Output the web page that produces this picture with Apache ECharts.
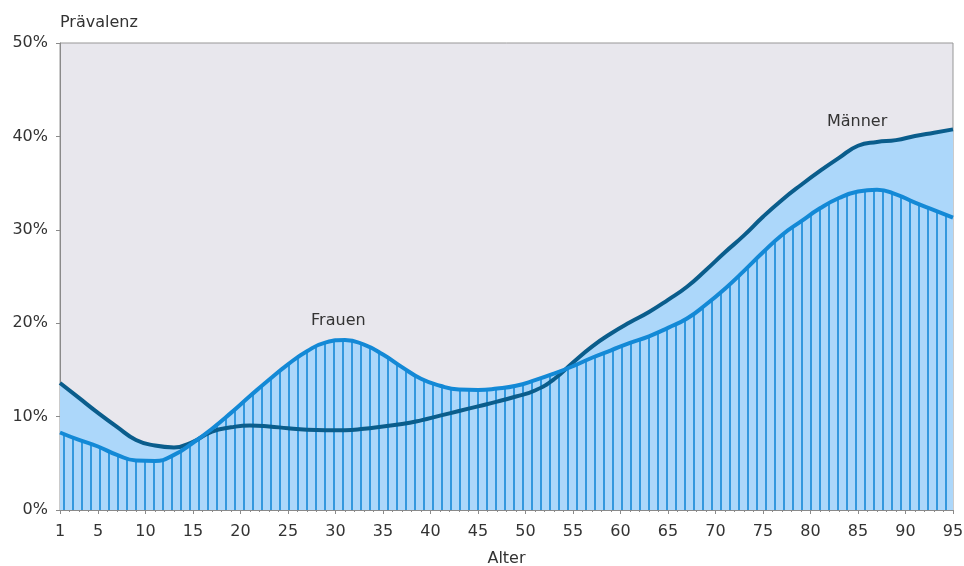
<!DOCTYPE html>
<html><head><meta charset="utf-8">
<script src="https://cdn.jsdelivr.net/npm/echarts@6/dist/echarts.min.js"></script>
<style>html,body{margin:0;padding:0;background:#fff}#c{width:964px;height:566px}</style>
</head><body><div id="c"></div>
<script>
// Alter (x) – Stützstellen
const ages = [1,3,5,7,9,11,13,15,17,19,21,23,25,27,29,31,33,35,37,39,41,43,45,47,49,51,53,55,57,59,61,63,65,67,69,71,73,75,77,79,81,83,85,87,89,91,93,95];
// Prävalenz Männer in %
const maenner = [13.6,12.0,10.4,8.9,7.5,6.9,6.7,7.3,8.4,8.85,9.05,8.95,8.75,8.6,8.55,8.55,8.7,8.95,9.2,9.6,10.1,10.6,11.1,11.6,12.15,12.8,14.0,15.8,17.5,18.9,20.1,21.2,22.5,23.9,25.7,27.6,29.4,31.4,33.2,34.8,36.3,37.7,39.0,39.4,39.6,40.05,40.4,40.75];
// Prävalenz Frauen in %
const frauen = [8.3,7.5,6.8,5.9,5.3,5.25,5.9,7.2,8.7,10.4,12.2,13.95,15.6,17.0,17.95,18.2,17.7,16.65,15.3,14.05,13.3,12.9,12.85,13.0,13.3,13.9,14.6,15.4,16.3,17.1,17.9,18.6,19.5,20.5,22.0,23.7,25.6,27.6,29.45,30.9,32.3,33.4,34.1,34.3,33.8,32.9,32.1,31.3];
// Achsenbeschriftungen
const xTickLabels = [1,5,10,15,20,25,30,35,40,45,50,55,60,65,70,75,80,85,90,95];
const yTickLabels = [0,10,20,30,40,50];

const FONT = 'DejaVu Sans';
const TXT = '#333333';
const pairs = (arr) => ages.map((a, i) => [a, arr[i]]);
const allAges = [];
for (let a = xTickLabels[0]; a <= xTickLabels[xTickLabels.length - 1]; a++) allAges.push(a);

const hatch = {symbol: 'rect', symbolSize: 1, dashArrayX: [2, 7], dashArrayY: [10, 0], color: '#3398de'};

const chart = echarts.init(document.getElementById('c'), null, {renderer: 'canvas'});
chart.setOption({
  animation: false,
  grid: {left: 60, right: 11, top: 43, bottom: 56, show: true, containLabel: false, outerBoundsMode: 'none',
         backgroundColor: '#e8e7ed', borderColor: '#979797', borderWidth: 1},
  xAxis: [{
    type: 'value', min: 1, max: 95,
    name: 'Alter', nameLocation: 'middle', nameGap: 41,
    nameTextStyle: {fontFamily: FONT, fontSize: 16, color: TXT},
    axisLine: {onZero: false, lineStyle: {color: '#8a8a8a', width: 1}},
    axisTick: {show: true, length: 4, customValues: xTickLabels, lineStyle: {color: '#8a8a8a'}},
    axisLabel: {customValues: xTickLabels, fontFamily: FONT, fontSize: 16, color: TXT, margin: 14},
    splitLine: {show: false}
  }, {
    type: 'value', min: 1, max: 95, position: 'bottom',
    axisLine: {show: false},
    axisTick: {show: true, length: 2, customValues: allAges, lineStyle: {color: '#8a8a8a'}},
    axisLabel: {show: false},
    splitLine: {show: false}
  }],
  yAxis: {
    type: 'value', min: 0, max: 50, interval: 10,
    name: 'Prävalenz', nameLocation: 'end', nameGap: 12,
    nameTextStyle: {fontFamily: FONT, fontSize: 16, color: TXT, align: 'left'},
    axisLine: {show: true, lineStyle: {color: '#8a8a8a', width: 1}},
    axisTick: {show: true, length: 4, customValues: yTickLabels, lineStyle: {color: '#8a8a8a'}},
    axisLabel: {formatter: '{value}%', fontFamily: FONT, fontSize: 16, color: TXT, margin: 12},
    splitLine: {show: false}
  },
  series: [
    {
      name: 'Männer Fläche', type: 'line', data: pairs(maenner), smooth: true, symbol: 'none', z: 1,
      lineStyle: {width: 0, color: 'transparent'},
      areaStyle: {color: '#acd7fa', opacity: 1}
    },
    {
      name: 'Frauen Fläche', type: 'line', data: pairs(frauen), smooth: true, symbol: 'none', z: 2,
      lineStyle: {width: 0, color: 'transparent', decal: hatch},
      itemStyle: {decal: hatch},
      areaStyle: {color: '#acd7fa', opacity: 1}
    },
    {
      name: 'Männer', type: 'line', data: pairs(maenner), smooth: true, symbol: 'none', z: 3,
      lineStyle: {width: 4, color: '#0a5d8c'},
      markPoint: {symbol: 'circle', symbolSize: 0, silent: true,
        data: [{coord: [84.9, 41.6], name: 'Männer'}],
        label: {show: true, position: 'inside', formatter: '{b}', fontFamily: FONT, fontSize: 16, color: TXT}}
    },
    {
      name: 'Frauen', type: 'line', data: pairs(frauen), smooth: true, symbol: 'none', z: 4,
      lineStyle: {width: 4, color: '#1389d6'},
      markPoint: {symbol: 'circle', symbolSize: 0, silent: true,
        data: [{coord: [30.3, 20.3], name: 'Frauen'}],
        label: {show: true, position: 'inside', formatter: '{b}', fontFamily: FONT, fontSize: 16, color: TXT}}
    }
  ]
});
</script>
</body></html>
